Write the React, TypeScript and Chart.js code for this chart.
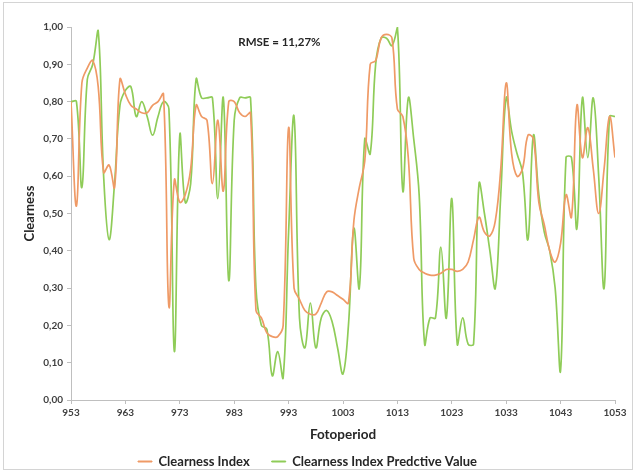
import React, { useEffect, useRef } from "react";
import { Chart, registerables } from "chart.js";

Chart.register(...registerables);

const periods: number[] = [];
for (let p = 953; p <= 1053; p++) periods.push(p);

const clearnessIndex: number[] = [
  0.80, 0.52, 0.85, 0.89, 0.91, 0.84, 0.61, 0.63, 0.57, 0.86, // 953-962
  0.82, 0.79, 0.78, 0.77, 0.77, 0.79, 0.80, 0.82, 0.25, 0.59, // 963-972
  0.53, 0.55, 0.62, 0.79, 0.76, 0.75, 0.58, 0.75, 0.56, 0.80, // 973-982
  0.80, 0.77, 0.76, 0.77, 0.24, 0.22, 0.18, 0.17, 0.17, 0.20, // 983-992
  0.73, 0.30, 0.27, 0.24, 0.23, 0.23, 0.26, 0.29, 0.29, 0.28, // 993-1002
  0.27, 0.26, 0.48, 0.57, 0.64, 0.90, 0.91, 0.97, 0.98, 0.97, // 1003-1012
  0.78, 0.76, 0.65, 0.38, 0.35, 0.34, 0.335, 0.335, 0.34, 0.35, // 1013-1022
  0.35, 0.345, 0.35, 0.37, 0.43, 0.49, 0.45, 0.44, 0.48, 0.62, // 1023-1032
  0.85, 0.66, 0.60, 0.62, 0.71, 0.70, 0.53, 0.47, 0.40, 0.37, // 1033-1042
  0.42, 0.55, 0.49, 0.79, 0.65, 0.73, 0.62, 0.50, 0.62, 0.76, // 1043-1052
  0.65, // 1053
];

const predictiveValue: number[] = [
  0.80, 0.80, 0.57, 0.86, 0.90, 0.99, 0.60, 0.43, 0.58, 0.79, // 953-962
  0.83, 0.84, 0.76, 0.80, 0.76, 0.71, 0.76, 0.80, 0.78, 0.13, // 963-972
  0.71, 0.53, 0.58, 0.86, 0.81, 0.81, 0.81, 0.54, 0.81, 0.32, // 973-982
  0.75, 0.81, 0.81, 0.81, 0.30, 0.20, 0.19, 0.065, 0.13, 0.06, // 983-992
  0.45, 0.76, 0.22, 0.14, 0.26, 0.14, 0.22, 0.24, 0.21, 0.14, // 993-1002
  0.07, 0.20, 0.46, 0.30, 0.70, 0.66, 0.90, 0.97, 0.97, 0.95, // 1003-1012
  1.00, 0.56, 0.81, 0.70, 0.55, 0.15, 0.22, 0.22, 0.41, 0.22, // 1013-1022
  0.54, 0.15, 0.22, 0.15, 0.15, 0.58, 0.50, 0.40, 0.30, 0.55, // 1023-1032
  0.81, 0.72, 0.66, 0.61, 0.43, 0.71, 0.55, 0.45, 0.40, 0.30, // 1033-1042
  0.08, 0.65, 0.65, 0.46, 0.81, 0.65, 0.81, 0.60, 0.30, 0.76, // 1043-1052
  0.76, // 1053
];

const seriesNames = ["Clearness Index", "Clearness Index Predctive Value"];
const xTitle = "Fotoperiod";
const yTitle = "Clearness";
const annotationText = "RMSE = 11,27%";

const FONT = "Lato, 'Open Sans', sans-serif";
const AXIS_COLOR = "#bfbfbf";
const TEXT_COLOR = "#404040";
const ORANGE = "#EF9A66";
const GREEN = "#8FCC58";

export default function App() {
  const canvasRef = useRef<HTMLCanvasElement | null>(null);

  useEffect(() => {
    document.body.style.margin = "0";
    const canvas = canvasRef.current;
    if (!canvas) return;

    const frame = {
      id: "frameAndNote",
      afterDraw(chart: any) {
        const ctx = chart.ctx;
        ctx.save();
        ctx.strokeStyle = "#d4d4d4";
        ctx.lineWidth = 1;
        ctx.strokeRect(3.5, 2.5, 629, 467);
        const xs = chart.scales.x;
        const ys = chart.scales.y;
        ctx.fillStyle = "#262626";
        ctx.font = `bold 11.5px ${FONT}`;
        ctx.textAlign = "center";
        ctx.textBaseline = "middle";
        ctx.fillText(annotationText, xs.getPixelForValue(991.3), ys.getPixelForValue(0.96));
        ctx.restore();
      },
    };

    const chart = new Chart(canvas, {
      type: "line",
      data: {
        datasets: [
          {
            label: seriesNames[0],
            data: periods.map((p, i) => ({ x: p, y: clearnessIndex[i] })),
            borderColor: ORANGE,
            backgroundColor: ORANGE,
            borderWidth: 1.7,
            pointRadius: 0,
            tension: 0.4,
          },
          {
            label: seriesNames[1],
            data: periods.map((p, i) => ({ x: p, y: predictiveValue[i] })),
            borderColor: GREEN,
            backgroundColor: GREEN,
            borderWidth: 1.7,
            pointRadius: 0,
            tension: 0.4,
          },
        ],
      },
      options: {
        animation: false,
        responsive: false,
        maintainAspectRatio: false,
        layout: { padding: { top: 27, right: 24, left: 0, bottom: -4 } },
        plugins: {
          legend: {
            position: "bottom",
            labels: {
              font: { family: FONT, size: 13, weight: "bold" },
              color: "#262626",
              boxWidth: 14,
              boxHeight: 1,
              padding: 22,
              generateLabels(chart: any) {
                return chart.data.datasets.map((ds: any, i: number) => ({
                  text: ds.label,
                  fillStyle: ds.borderColor,
                  strokeStyle: ds.borderColor,
                  lineWidth: 1,
                  hidden: false,
                  datasetIndex: i,
                  fontColor: "#262626",
                }));
              },
            },
          },
          tooltip: { enabled: false },
        },
        scales: {
          x: {
            type: "linear",
            min: 953,
            max: 1053,
            ticks: {
              stepSize: 10,
              padding: 3,
              maxRotation: 0,
              color: TEXT_COLOR,
              font: { family: FONT, size: 10, weight: "bold" },
              callback: (v: any) => String(v),
            },
            grid: { drawOnChartArea: false, drawTicks: true, tickLength: 4, color: AXIS_COLOR },
            border: { display: true, color: AXIS_COLOR },
            title: {
              display: true,
              text: xTitle,
              color: "#262626",
              font: { family: FONT, size: 13.5, weight: "bold" },
              padding: { top: 0, bottom: -10 },
            },
            afterFit(scale: any) {
              scale.height = 33;
            },
          },
          y: {
            min: 0,
            max: 1,
            ticks: {
              stepSize: 0.1,
              padding: 4,
              color: TEXT_COLOR,
              font: { family: FONT, size: 10, weight: "bold" },
              callback: (v: any) => Number(v).toFixed(2).replace(".", ","),
            },
            grid: { drawOnChartArea: false, drawTicks: true, tickLength: 4, color: AXIS_COLOR },
            border: { display: true, color: AXIS_COLOR },
            title: {
              display: true,
              text: yTitle,
              color: "#262626",
              font: { family: FONT, size: 13, weight: "bold" },
              padding: { top: 22, bottom: 0 },
            },
            afterFit(scale: any) {
              scale.width = 71;
            },
          },
        },
      },
      plugins: [frame],
    });

    return () => chart.destroy();
  }, []);

  return (
    <div style={{ width: 639, height: 474, position: "relative", background: "#fff" }}>
      <canvas ref={canvasRef} width={639} height={474} style={{ display: "block" }} />
    </div>
  );
}
